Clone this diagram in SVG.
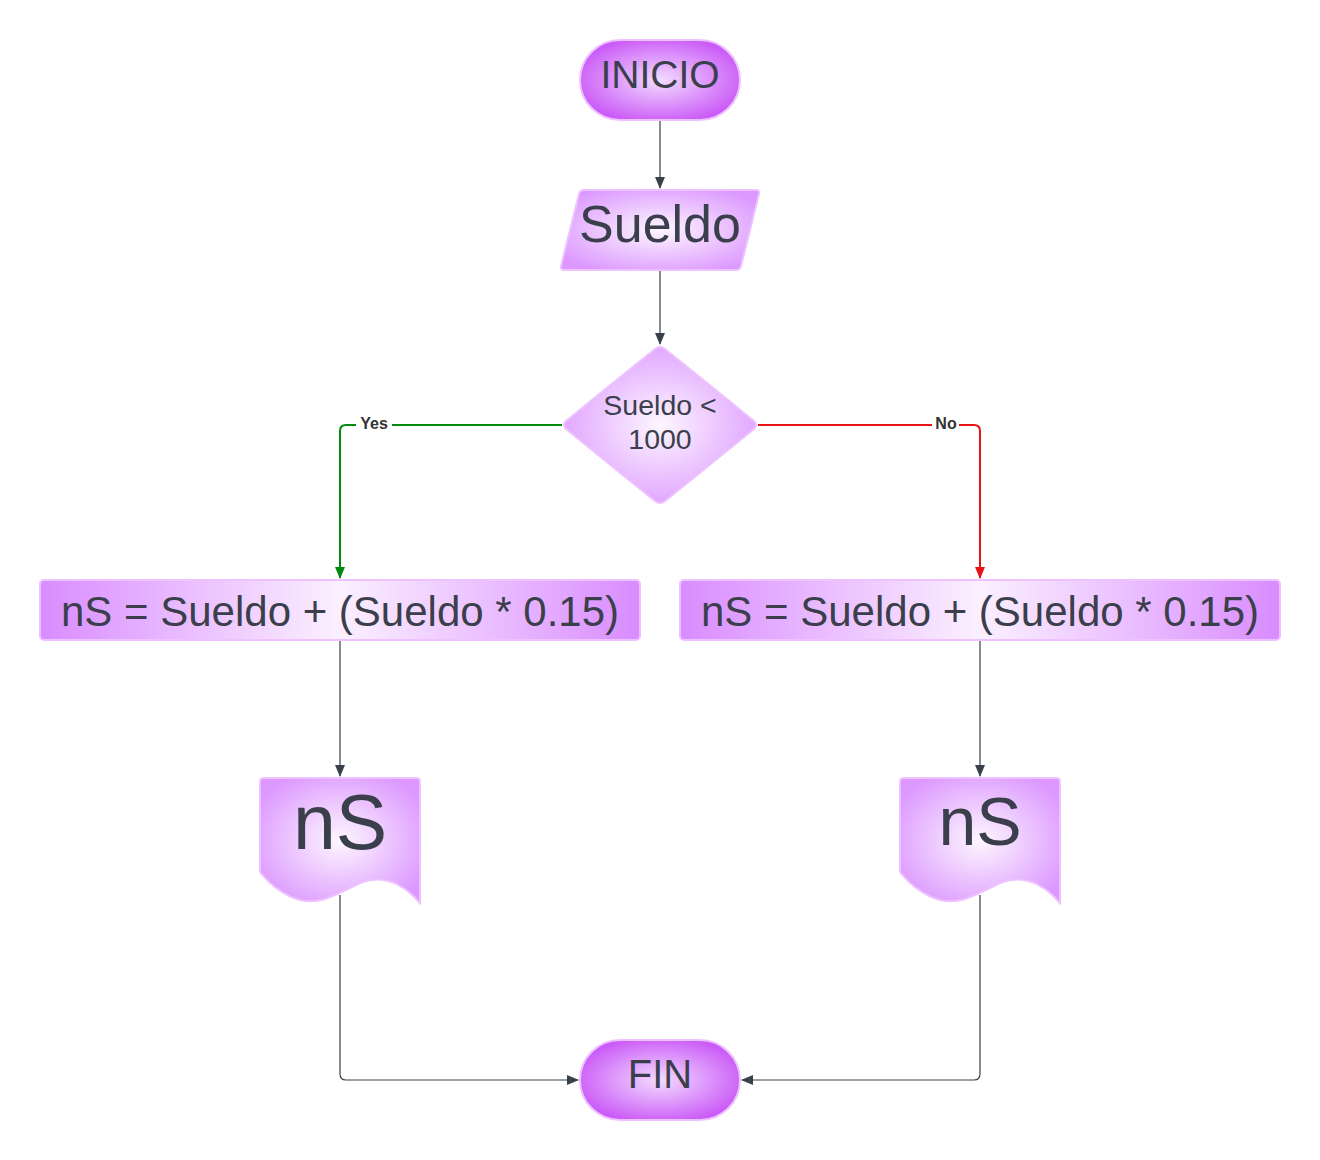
<svg xmlns="http://www.w3.org/2000/svg" width="1320" height="1160" viewBox="0 0 1320 1160">
<style>
.t{font-family:"Liberation Sans",Arial,sans-serif;fill:#3a3f4b;text-anchor:middle}
.c{fill:none;stroke:#3a414a;stroke-width:1.2}
.lbl{font-family:"Liberation Sans",Arial,sans-serif;font-weight:bold;font-size:16px;fill:#333;text-anchor:middle}
</style>
<defs>
<radialGradient id="gStad" cx="50%" cy="50%" r="60%">
<stop offset="0" stop-color="#f3dcff"/><stop offset="1" stop-color="#c64ef6"/>
</radialGradient>
<radialGradient id="gSoft" cx="50%" cy="50%" r="60%">
<stop offset="0" stop-color="#fdf6ff"/><stop offset="1" stop-color="#dc98ff"/>
</radialGradient>
<linearGradient id="gProc" x1="0" y1="0" x2="1" y2="0">
<stop offset="0" stop-color="#d98cff"/><stop offset="0.5" stop-color="#fbf0ff"/><stop offset="1" stop-color="#d98cff"/>
</linearGradient>
<marker id="ad" markerWidth="12" markerHeight="10" refX="11" refY="5" orient="auto" markerUnits="userSpaceOnUse">
<path d="M0,0 L12,5 L0,10 z" fill="#3a414a"/>
</marker>
<marker id="ag" markerWidth="12" markerHeight="10" refX="11" refY="5" orient="auto" markerUnits="userSpaceOnUse">
<path d="M0,0 L12,5 L0,10 z" fill="#008a0e"/>
</marker>
<marker id="ar" markerWidth="12" markerHeight="10" refX="11" refY="5" orient="auto" markerUnits="userSpaceOnUse">
<path d="M0,0 L12,5 L0,10 z" fill="#e81313"/>
</marker>
</defs>

<g id="connectors">
<path class="c" d="M660,121 V188" marker-end="url(#ad)"/>
<path class="c" d="M660,271 V344" marker-end="url(#ad)"/>
<path d="M562,425 H346 Q340,425 340,431 V578" fill="none" stroke="#008a0e" stroke-width="2" marker-end="url(#ag)"/>
<path d="M758,425 H974 Q980,425 980,431 V578" fill="none" stroke="#e81313" stroke-width="2" marker-end="url(#ar)"/>
<rect x="356" y="414" width="36" height="18" fill="#fff"/>
<text class="lbl" x="374" y="429">Yes</text>
<rect x="932" y="414" width="27" height="18" fill="#fff"/>
<text class="lbl" x="946" y="429">No</text>
<path class="c" d="M340,641 V776" marker-end="url(#ad)"/>
<path class="c" d="M980,641 V776" marker-end="url(#ad)"/>
<path class="c" d="M340,895 V1074 Q340,1080 346,1080 H578" marker-end="url(#ad)"/>
<path class="c" d="M980,895 V1074 Q980,1080 974,1080 H742" marker-end="url(#ad)"/>
</g>

<g id="inicio">
<rect x="580" y="40" width="160" height="80" rx="40" fill="url(#gStad)" stroke="#eec2ff" stroke-width="2"/>
<text class="t" x="660" y="88" font-size="39">INICIO</text>
</g>

<g id="sueldo-input">
<path d="M584,190 H756 Q760,190 759,194 L741,266 Q740,270 736,270 H564 Q560,270 561,266 L579,194 Q580,190 584,190 z" fill="url(#gSoft)" stroke="#eec2ff" stroke-width="2"/>
<text class="t" x="660" y="242" font-size="52">Sueldo</text>
</g>

<g id="decision">
<path d="M655,349 Q660,345 665,349 L754,421 Q758,425 754,429 L665,501 Q660,505 655,501 L566,429 Q562,425 566,421 z" fill="url(#gSoft)" stroke="#eec2ff" stroke-width="2"/>
<text class="t" x="660" y="415" font-size="28.5">Sueldo &lt;</text>
<text class="t" x="660" y="449" font-size="28.5">1000</text>
</g>

<g id="proc-left">
<rect x="40" y="580" width="600" height="60" rx="4" fill="url(#gProc)" stroke="#eec2ff" stroke-width="2"/>
<text class="t" x="340" y="626" font-size="42">nS = Sueldo + (Sueldo * 0.15)</text>
</g>

<g id="proc-right">
<rect x="680" y="580" width="600" height="60" rx="4" fill="url(#gProc)" stroke="#eec2ff" stroke-width="2"/>
<text class="t" x="980" y="626" font-size="42">nS = Sueldo + (Sueldo * 0.15)</text>
</g>

<g id="doc-left">
<path d="M264,778 H416 Q420,778 420,782 V903 C400,880 380,875 360,883 C335,895 320,905 300,900 C285,896 270,885 260,872 V782 Q260,778 264,778 z" fill="url(#gSoft)" stroke="#eec2ff" stroke-width="2"/>
<text class="t" x="340" y="849" font-size="77">nS</text>
</g>

<g id="doc-right">
<path d="M904,778 H1056 Q1060,778 1060,782 V903 C1040,880 1020,875 1000,883 C975,895 960,905 940,900 C925,896 910,885 900,872 V782 Q900,778 904,778 z" fill="url(#gSoft)" stroke="#eec2ff" stroke-width="2"/>
<text class="t" x="980" y="845" font-size="68">nS</text>
</g>

<g id="fin">
<rect x="580" y="1040" width="160" height="80" rx="40" fill="url(#gStad)" stroke="#eec2ff" stroke-width="2"/>
<text class="t" x="660" y="1088" font-size="40">FIN</text>
</g>
</svg>
